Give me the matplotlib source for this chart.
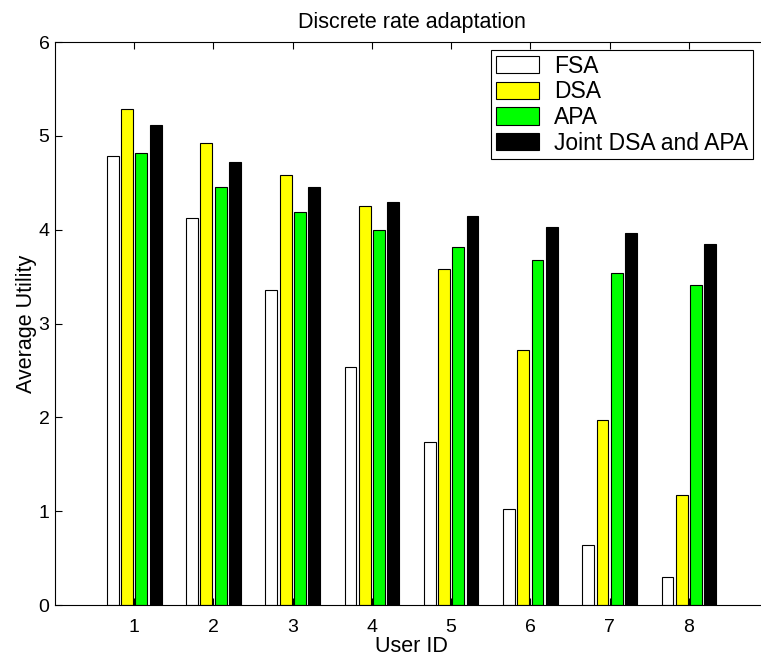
import numpy as np
import matplotlib.pyplot as plt

plt.rcParams['font.family'] = ['Liberation Sans', 'DejaVu Sans']

# data
users = [1, 2, 3, 4, 5, 6, 7, 8]
fsa = [4.79, 4.12, 3.36, 2.54, 1.74, 1.02, 0.64, 0.30]
dsa = [5.29, 4.92, 4.58, 4.25, 3.58, 2.72, 1.97, 1.17]
apa = [4.82, 4.45, 4.19, 4.00, 3.82, 3.68, 3.54, 3.41]
joint = [5.12, 4.72, 4.45, 4.29, 4.15, 4.03, 3.96, 3.85]

series = [fsa, dsa, apa, joint]
names = ['FSA', 'DSA', 'APA', 'Joint DSA and APA']
colors = ['white', '#ffff00', '#00ff00', 'black']

fig = plt.figure(figsize=(7.61, 6.6), dpi=100)
ax = fig.add_axes([0.0723, 0.0833, 0.937, 0.853])

x = np.array(users, dtype=float)
offsets = [-0.27, -0.09, 0.09, 0.27]
for vals, name, c, off in zip(series, names, colors, offsets):
    ax.bar(x + off, vals, width=0.15, color=c, edgecolor='black', linewidth=0.8, label=name)

ax.set_xlim(0, 9)
ax.set_ylim(0, 6)
ax.set_xticks(users)
ax.set_yticks(range(7))
ax.tick_params(direction='in', top=True, right=True, length=5, labelsize=14)
ax.tick_params(axis='x', pad=10)
ax.tick_params(axis='y', pad=4)
ax.set_xlabel('User ID', fontsize=15.5, labelpad=0)
ax.set_ylabel('Average Utility', fontsize=15.5, labelpad=1)
ax.set_title('Discrete rate adaptation', fontsize=15.5, pad=10)

leg = ax.legend(loc='upper left', bbox_to_anchor=(0.6115, 0.986), fontsize=16.5,
                frameon=True, fancybox=False, edgecolor='black', framealpha=1,
                handlelength=1.9, handleheight=0.79, labelspacing=0.12,
                handletextpad=0.65, borderpad=0.2, borderaxespad=0)
leg.get_frame().set_linewidth(0.8)

fig.savefig('out.png', dpi=100)
